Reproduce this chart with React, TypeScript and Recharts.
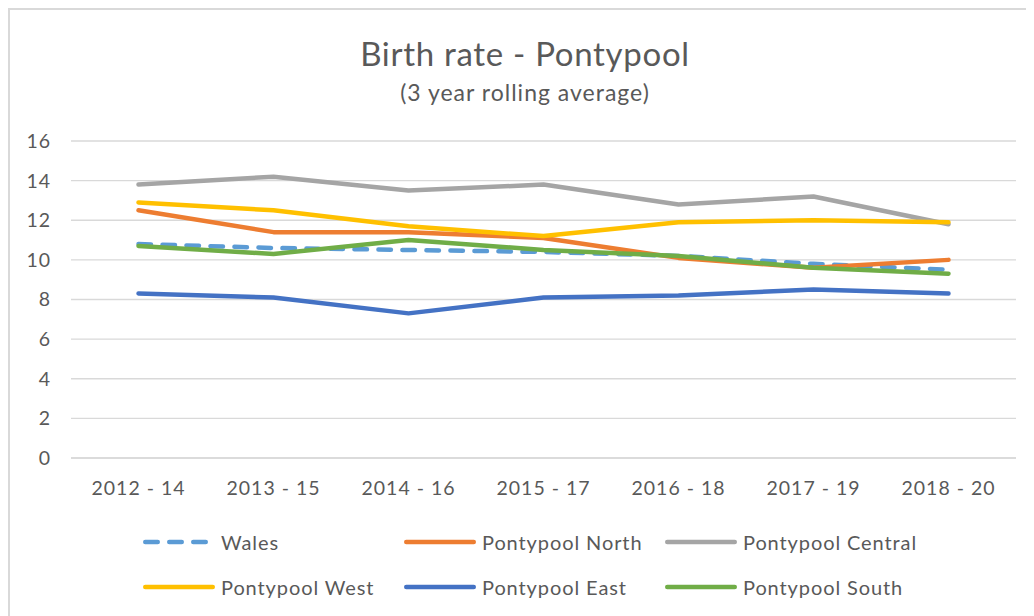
import React from 'react';
import { LineChart, Line, XAxis, YAxis, CartesianGrid } from 'recharts';

const periods = ['2012 - 14', '2013 - 15', '2014 - 16', '2015 - 17', '2016 - 18', '2017 - 19', '2018 - 20'];
const wales = [10.8, 10.6, 10.5, 10.4, 10.2, 9.8, 9.5];
const north = [12.5, 11.4, 11.4, 11.1, 10.1, 9.6, 10.0];
const central = [13.8, 14.2, 13.5, 13.8, 12.8, 13.2, 11.8];
const west = [12.9, 12.5, 11.7, 11.2, 11.9, 12.0, 11.9];
const east = [8.3, 8.1, 7.3, 8.1, 8.2, 8.5, 8.3];
const south = [10.7, 10.3, 11.0, 10.5, 10.2, 9.6, 9.3];
const yTicks = [0, 2, 4, 6, 8, 10, 12, 14, 16];

const series = [
  { key: 'wales', name: 'Wales', color: '#5B9BD5', values: wales, dashed: true },
  { key: 'north', name: 'Pontypool North', color: '#ED7D31', values: north },
  { key: 'central', name: 'Pontypool Central', color: '#A5A5A5', values: central },
  { key: 'west', name: 'Pontypool West', color: '#FFC000', values: west },
  { key: 'east', name: 'Pontypool East', color: '#4472C4', values: east },
  { key: 'south', name: 'Pontypool South', color: '#70AD47', values: south },
];

const data = periods.map((period, i) => {
  const row: { [key: string]: string | number } = { period };
  series.forEach((s) => {
    row[s.key] = s.values[i];
  });
  return row;
});

const FONT = "Lato, 'Open Sans', sans-serif";
const TEXT = '#595959';
const DASH = '12.5 11.5';

// legend grid: 3 columns, 2 rows (Excel order, row by row)
const legendCols = [133, 394, 655];
const legendRows = [532, 577];

const LegendSample = ({ color, dashed }: { color: string; dashed?: boolean }) => (
  <svg width={74} height={10} style={{ display: 'block' }}>
    <line
      x1={2.25}
      x2={dashed ? 62.75 : 69.75}
      y1={5}
      y2={5}
      stroke={color}
      strokeWidth={4.5}
      strokeLinecap="round"
      strokeDasharray={dashed ? DASH : undefined}
    />
  </svg>
);

const App = () => {
  return (
    <div
      style={{
        position: 'relative',
        width: 1026,
        height: 608,
        boxSizing: 'border-box',
        borderTop: '2px solid #d9d9d9',
        borderLeft: '2px solid #d9d9d9',
        background: '#fff',
        overflow: 'hidden',
        fontFamily: FONT,
      }}
    >
      <svg width={1024} height={120} style={{ position: 'absolute', left: 0, top: 0 }}>
        <text x={515} y={56} textAnchor="middle" fontSize={33} letterSpacing={0.7} fill={TEXT} fontFamily={FONT}>
          Birth rate - Pontypool
        </text>
        <text x={515} y={91} textAnchor="middle" fontSize={23} letterSpacing={1} fill={TEXT} fontFamily={FONT}>
          (3 year rolling average)
        </text>
      </svg>

      <div style={{ position: 'absolute', left: 0, top: 0 }}>
        <LineChart width={1016} height={598} data={data} margin={{ top: 131, right: 10, bottom: 0, left: 0 }}>
          <CartesianGrid vertical={false} stroke="#d9d9d9" strokeWidth={1.3} />
          <XAxis
            dataKey="period"
            height={150}
            interval={0}
            padding={{ left: 67.5, right: 67.5 }}
            tickLine={false}
            tickSize={0}
            tickMargin={23}
            axisLine={{ stroke: '#d9d9d9', strokeWidth: 1.3 }}
            tick={{ fill: TEXT, fontSize: 19.5, fontFamily: FONT, letterSpacing: 1 }}
          />
          <YAxis
            width={61}
            domain={[0, 16]}
            ticks={yTicks}
            axisLine={false}
            tickLine={false}
            tickSize={0}
            tickMargin={20}
            tick={{ fill: TEXT, fontSize: 19.5, fontFamily: FONT, letterSpacing: 1 }}
          />
          {series.map((s) => (
            <Line
              key={s.key}
              type="linear"
              dataKey={s.key}
              name={s.name}
              stroke={s.color}
              strokeWidth={4.5}
              strokeLinecap="round"
              strokeLinejoin="round"
              strokeDasharray={s.dashed ? DASH : undefined}
              dot={false}
              activeDot={false}
              isAnimationActive={false}
            />
          ))}
        </LineChart>
      </div>

      {series.map((s, i) => (
        <div
          key={s.key}
          style={{
            position: 'absolute',
            left: legendCols[i % 3],
            top: legendRows[Math.floor(i / 3)] - 12,
            height: 24,
            display: 'flex',
            alignItems: 'center',
          }}
        >
          <LegendSample color={s.color} dashed={s.dashed} />
          <span style={{ marginLeft: 4, fontSize: 20, letterSpacing: 0.9, color: TEXT, lineHeight: '24px', whiteSpace: 'nowrap' }}>
            {s.name}
          </span>
        </div>
      ))}
    </div>
  );
};

export default App;
